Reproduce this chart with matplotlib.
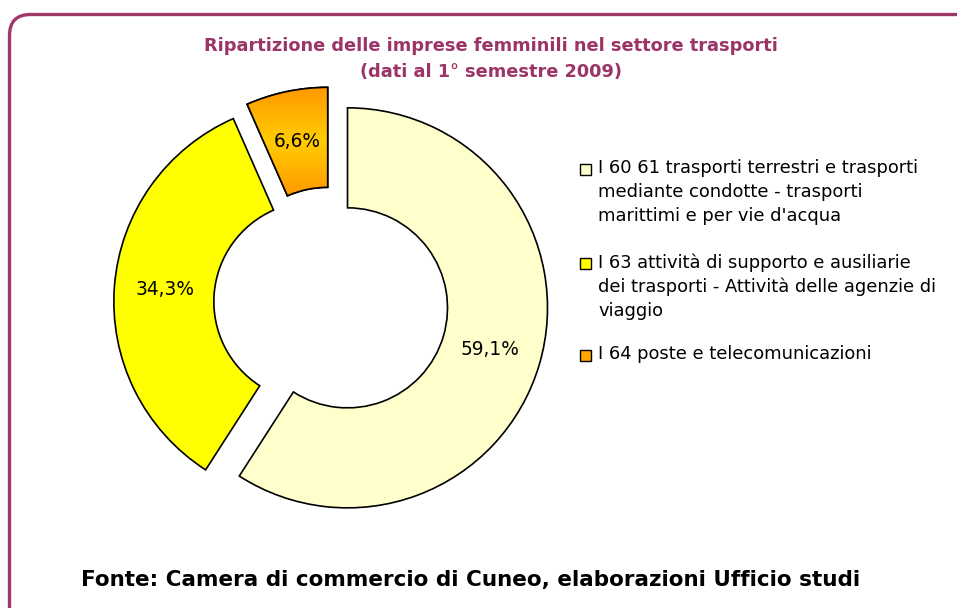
import matplotlib
matplotlib.use("Agg")
import matplotlib.pyplot as plt
import numpy as np
from matplotlib.patches import FancyBboxPatch, Rectangle, PathPatch
from matplotlib.transforms import IdentityTransform

categories = [
    "I 60 61 trasporti terrestri e trasporti\nmediante condotte - trasporti\nmarittimi e per vie d'acqua",
    "I 63 attività di supporto e ausiliarie\ndei trasporti - Attività delle agenzie di\nviaggio",
    "I 64 poste e telecomunicazioni",
]
values = [59.1, 34.3, 6.6]
colors = ["#FFFFCC", "#FFFF00", "#FFA500"]
title = "Ripartizione delle imprese femminili nel settore trasporti\n(dati al 1° semestre 2009)"
source = "Fonte: Camera di commercio di Cuneo, elaborazioni Ufficio studi"

W, H = 957, 608
fig = plt.figure(figsize=(W / 100, H / 100), dpi=100)
fig.patch.set_facecolor("white")

# rounded border (pixel coordinates)
border = FancyBboxPatch((9.5, -30), W + 30, H - 14.5 + 30,
                        boxstyle="round,pad=0,rounding_size=21",
                        transform=IdentityTransform(), fill=False,
                        edgecolor="#A0386A", linewidth=2.4, zorder=0)
fig.patches.append(border)

cx, cy, side, R = 331, 303, 500, 202
lim = side / 2 / R
ax = fig.add_axes([(cx - side / 2) / W, (H - cy - side / 2) / H, side / W, side / H])
ax.set_xlim(-lim, lim)
ax.set_ylim(-lim, lim)
ax.set_aspect("equal")
ax.axis("off")

wedges, texts, autotexts = ax.pie(
    values, colors=colors, startangle=90, counterclock=False,
    explode=[0.086, 0.086, 0.08], radius=1.0,
    wedgeprops=dict(width=0.5, edgecolor="black", linewidth=1.2),
    autopct=lambda p: f"{p:.1f}%".replace(".", ","), pctdistance=0.745,
    textprops=dict(fontsize=13.4, color="black", family="DejaVu Sans"),
)

# orange gradient in the smallest wedge
w = wedges[2]
bb = w.get_path().get_extents(w.get_patch_transform())
grad = np.linspace(0, 1, 256)
g = 1 - np.abs(grad - 0.5) * 2
cols = np.zeros((256, 1, 3))
c1 = np.array([1.0, 0.60, 0.0])
c2 = np.array([1.0, 0.80, 0.0])
for i, t in enumerate(g):
    cols[i, 0] = c1 * (1 - t) + c2 * t
im = ax.imshow(cols, extent=[bb.x0, bb.x1, bb.y0, bb.y1], aspect="auto",
               zorder=1.5, origin="lower")
im.set_clip_path(w)
w.set_zorder(1)
ax.add_patch(PathPatch(w.get_path(), transform=w.get_transform(), fill=False,
                       edgecolor="black", linewidth=1.2, zorder=2))
for t in autotexts:
    t.set_zorder(3)

fig.text(491 / W, 1 - 59 / H, title, ha="center", va="center", fontsize=12.8,
         fontweight="bold", color="#9B3467", linespacing=1.6)

# legend
ytops = [159, 253, 345]
for lab, col, yt in zip(categories, colors, ytops):
    fig.patches.append(Rectangle((580 / W, 1 - (yt + 16) / H), 11 / W, 11 / H,
                                 transform=fig.transFigure, facecolor=col,
                                 edgecolor="black", linewidth=1.0))
    fig.text(598 / W, 1 - yt / H, lab, ha="left", va="top", fontsize=12.9,
             color="black", linespacing=1.42)

fig.text(471 / W, 1 - 580 / H, source, ha="center", va="center", fontsize=15.5,
         fontweight="bold", color="black")

fig.savefig("out.png", dpi=100, facecolor="white")
